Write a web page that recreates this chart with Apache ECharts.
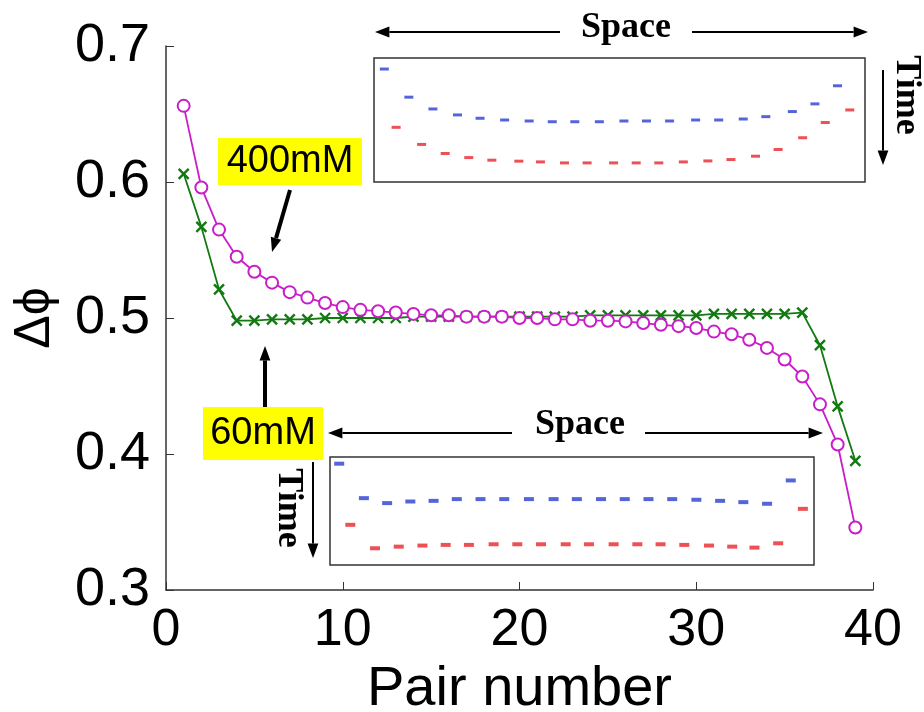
<!DOCTYPE html>
<html>
<head>
<meta charset="utf-8">
<script src="https://cdn.jsdelivr.net/npm/echarts@6/dist/echarts.min.js"></script>
<style>
  html, body { margin: 0; background: #fff; }
  #chart { width: 924px; height: 712px; }
</style>
</head>
<body>
<div id="chart"></div>
<script>
// pair index along the chain
const pairs = [1, 2, 3, 4, 5, 6, 7, 8, 9, 10, 11, 12, 13, 14, 15, 16, 17, 18, 19, 20,
  21, 22, 23, 24, 25, 26, 27, 28, 29, 30, 31, 32, 33, 34, 35, 36, 37, 38, 39];

// phase difference, 400mM (magenta circles)
const phase400 = [0.656, 0.596, 0.565, 0.545, 0.534, 0.526, 0.519, 0.515, 0.511, 0.508,
  0.506, 0.505, 0.504, 0.503, 0.502, 0.502, 0.501, 0.501, 0.501, 0.500,
  0.500, 0.499, 0.499, 0.498, 0.498, 0.4975, 0.4963, 0.495, 0.494, 0.4927,
  0.490, 0.488, 0.484, 0.478, 0.4695, 0.457, 0.4365, 0.407, 0.346];

// phase difference, 60mM (green crosses)
const phase60 = [0.606, 0.567, 0.521, 0.498, 0.498, 0.499, 0.499, 0.499, 0.500, 0.500,
  0.500, 0.500, 0.500, 0.501, 0.501, 0.501, 0.501, 0.501, 0.501, 0.501,
  0.501, 0.501, 0.501, 0.502, 0.502, 0.502, 0.502, 0.502, 0.502, 0.502,
  0.503, 0.503, 0.503, 0.503, 0.503, 0.504, 0.480, 0.435, 0.395];

// top inset (400mM): space position (% of box) and time (% of box, downwards)
const topBlueX = [2.1, 7.1, 12.0, 17.0, 21.6, 26.6, 31.6, 36.3, 40.9, 45.9, 50.9, 55.5, 60.2, 65.5, 70.2, 75.2, 79.8, 85.2, 89.8, 94.4];
const topBlueT = [8.9, 31.6, 41.1, 45.9, 48.6, 50.0, 50.8, 51.4, 51.4, 51.4, 50.8, 50.8, 50.8, 50.0, 50.0, 49.2, 47.3, 43.2, 37.0, 22.4];
const topRedX = [4.5, 9.7, 14.5, 19.3, 24.0, 29.5, 33.9, 38.8, 43.4, 48.8, 53.4, 58.0, 63.0, 68.0, 72.7, 77.7, 82.3, 87.3, 91.9, 96.9];
const topRedT = [55.9, 69.7, 77.0, 80.3, 82.4, 83.2, 83.8, 84.6, 84.6, 84.6, 84.6, 84.6, 83.8, 83.0, 81.9, 79.2, 73.8, 64.3, 52.0, 41.9];

// bottom inset (60mM)
const botBlueX = [1.9, 7.0, 11.8, 16.6, 21.4, 26.2, 31.1, 36.0, 41.1, 46.2, 51.0, 56.0, 60.9, 65.8, 70.7, 75.7, 80.6, 85.4, 90.3, 95.2];
const botBlueT = [6.2, 38.1, 42.7, 41.2, 40.6, 39.0, 39.0, 39.0, 39.0, 39.0, 39.0, 39.0, 39.0, 39.0, 39.0, 39.6, 40.6, 41.8, 43.3, 21.7];
const botRedX = [4.2, 9.3, 14.2, 19.1, 23.9, 28.7, 33.8, 38.7, 43.6, 48.7, 53.5, 58.6, 63.5, 68.3, 73.2, 78.3, 83.1, 87.7, 92.6, 97.7];
const botRedT = [62.8, 84.5, 83.0, 82.0, 81.4, 81.4, 80.8, 80.8, 80.8, 80.8, 80.8, 80.8, 80.8, 80.8, 81.4, 82.0, 83.0, 83.9, 79.9, 48.0];

const MAGENTA = "#c81ec8";
const GREEN = "#117a11";
const BLUE = "#2a3fd0";
const RED = "#e8262b";
const sans = "Liberation Sans, Arial, sans-serif";
const serif = "Liberation Serif, Times New Roman, serif";

const zip = (xs, ys) => xs.map((x, i) => [x, ys[i]]);

const arrow = (x1, y1, x2, y2, width, head) => {
  const a = Math.atan2(y2 - y1, x2 - x1);
  const bx = x2 - head * 1.6 * Math.cos(a);
  const by = y2 - head * 1.6 * Math.sin(a);
  const px = Math.sin(a) * head * 0.6;
  const py = -Math.cos(a) * head * 0.6;
  return [
    { type: "line", shape: { x1, y1, x2: bx, y2: by }, style: { stroke: "#000", lineWidth: width } },
    { type: "polygon", shape: { points: [[x2, y2], [bx + px, by + py], [bx - px, by - py]] }, style: { fill: "#000" } },
  ];
};

const insetAxes = (gridIndex) => ({
  x: { gridIndex, type: "value", min: 0, max: 100, show: false },
  y: { gridIndex, type: "value", min: 0, max: 100, inverse: true, show: false },
});
const topAx = insetAxes(1);
const botAx = insetAxes(2);

const dashSeries = (data, color, axisIndex, size) => ({
  type: "scatter",
  xAxisIndex: axisIndex,
  yAxisIndex: axisIndex,
  symbol: "rect",
  symbolSize: size,
  itemStyle: { color },
  silent: true,
  data,
});

const chart = echarts.init(document.getElementById("chart"));

const option = {
  backgroundColor: "#fff",
  animation: false,
  grid: [
    { left: 166, top: 46, width: 707, height: 544, outerBoundsMode: "none", containLabel: false },
    { left: 374, top: 58, width: 491, height: 124, show: true, borderColor: "#333", borderWidth: 1.5, backgroundColor: "#fff", outerBoundsMode: "none" },
    { left: 330, top: 457, width: 484, height: 108, show: true, borderColor: "#333", borderWidth: 1.5, backgroundColor: "#fff", outerBoundsMode: "none" },
  ],
  xAxis: [
    {
      type: "value",
      min: 0,
      max: 40,
      interval: 10,
      name: "Pair number",
      nameLocation: "middle",
      nameGap: 62,
      nameTextStyle: { fontFamily: sans, fontSize: 56, color: "#000" },
      axisLine: { lineStyle: { color: "#333", width: 1.5 } },
      axisTick: { inside: true, length: 8, lineStyle: { color: "#333" } },
      axisLabel: { fontFamily: sans, fontSize: 52, color: "#000", margin: 15 },
      splitLine: { show: false },
    },
    topAx.x,
    botAx.x,
  ],
  yAxis: [
    {
      type: "value",
      min: 0.3,
      max: 0.7,
      interval: 0.1,
      name: "Δϕ",
      nameLocation: "middle",
      nameRotate: 90,
      nameGap: 106,
      nameTextStyle: { fontFamily: sans, fontSize: 50, color: "#000" },
      axisLine: { lineStyle: { color: "#333", width: 1.5 } },
      axisTick: { inside: true, length: 8, lineStyle: { color: "#333" } },
      axisLabel: { fontFamily: sans, fontSize: 54, color: "#000", margin: 16, formatter: (v) => v.toFixed(1) },
      splitLine: { show: false },
    },
    topAx.y,
    botAx.y,
  ],
  series: [
    {
      name: "60mM",
      type: "line",
      data: zip(pairs, phase60),
      symbol: "path://M0,0L10,10M10,0L0,10",
      symbolSize: 10,
      lineStyle: { color: GREEN, width: 1.8 },
      itemStyle: { color: GREEN, borderColor: GREEN, borderWidth: 2.4 },
      z: 3,
    },
    {
      name: "400mM",
      type: "line",
      data: zip(pairs, phase400),
      symbol: "emptyCircle",
      symbolSize: 12,
      lineStyle: { color: MAGENTA, width: 1.8 },
      itemStyle: { color: MAGENTA, borderColor: MAGENTA, borderWidth: 2 },
      z: 4,
    },
    dashSeries(zip(topBlueX, topBlueT), BLUE, 1, [9, 3]),
    dashSeries(zip(topRedX, topRedT), RED, 1, [9, 3]),
    dashSeries(zip(botBlueX, botBlueT), BLUE, 2, [10, 4]),
    dashSeries(zip(botRedX, botRedT), RED, 2, [10, 4]),
  ],
  graphic: [
    // top inset annotations
    { type: "text", x: 626, y: 28, style: { text: "Space", font: `bold 36px ${serif}`, fill: "#000", textAlign: "center", textVerticalAlign: "middle" } },
    ...arrow(560, 32, 375, 32, 2, 9),
    ...arrow(692, 32, 868, 32, 2, 9),
    { type: "text", x: 906, y: 95, rotation: -Math.PI / 2, style: { text: "Time", font: `bold 36px ${serif}`, fill: "#000", textAlign: "center", textVerticalAlign: "middle" } },
    ...arrow(883, 70, 883, 165, 2, 9),
    // bottom inset annotations
    { type: "text", x: 580, y: 425, style: { text: "Space", font: `bold 36px ${serif}`, fill: "#000", textAlign: "center", textVerticalAlign: "middle" } },
    ...arrow(512, 433, 328, 433, 2, 9),
    ...arrow(645, 433, 823, 433, 2, 9),
    { type: "text", x: 288, y: 508, rotation: -Math.PI / 2, style: { text: "Time", font: `bold 36px ${serif}`, fill: "#000", textAlign: "center", textVerticalAlign: "middle" } },
    ...arrow(313, 462, 313, 558, 2, 9),
    // concentration labels
    { type: "rect", shape: { x: 218, y: 138, width: 144, height: 47 }, style: { fill: "#ffff00" } },
    { type: "text", x: 290, y: 162, style: { text: "400mM", font: `38px ${sans}`, fill: "#000", textAlign: "center", textVerticalAlign: "middle" } },
    ...arrow(290, 190, 272, 252, 4, 9),
    { type: "rect", shape: { x: 203, y: 407, width: 120, height: 53 }, style: { fill: "#ffff00" } },
    { type: "text", x: 263, y: 434, style: { text: "60mM", font: `38px ${sans}`, fill: "#000", textAlign: "center", textVerticalAlign: "middle" } },
    ...arrow(265, 407, 265, 346, 4, 9),
  ],
};

chart.setOption(option);
</script>
</body>
</html>
